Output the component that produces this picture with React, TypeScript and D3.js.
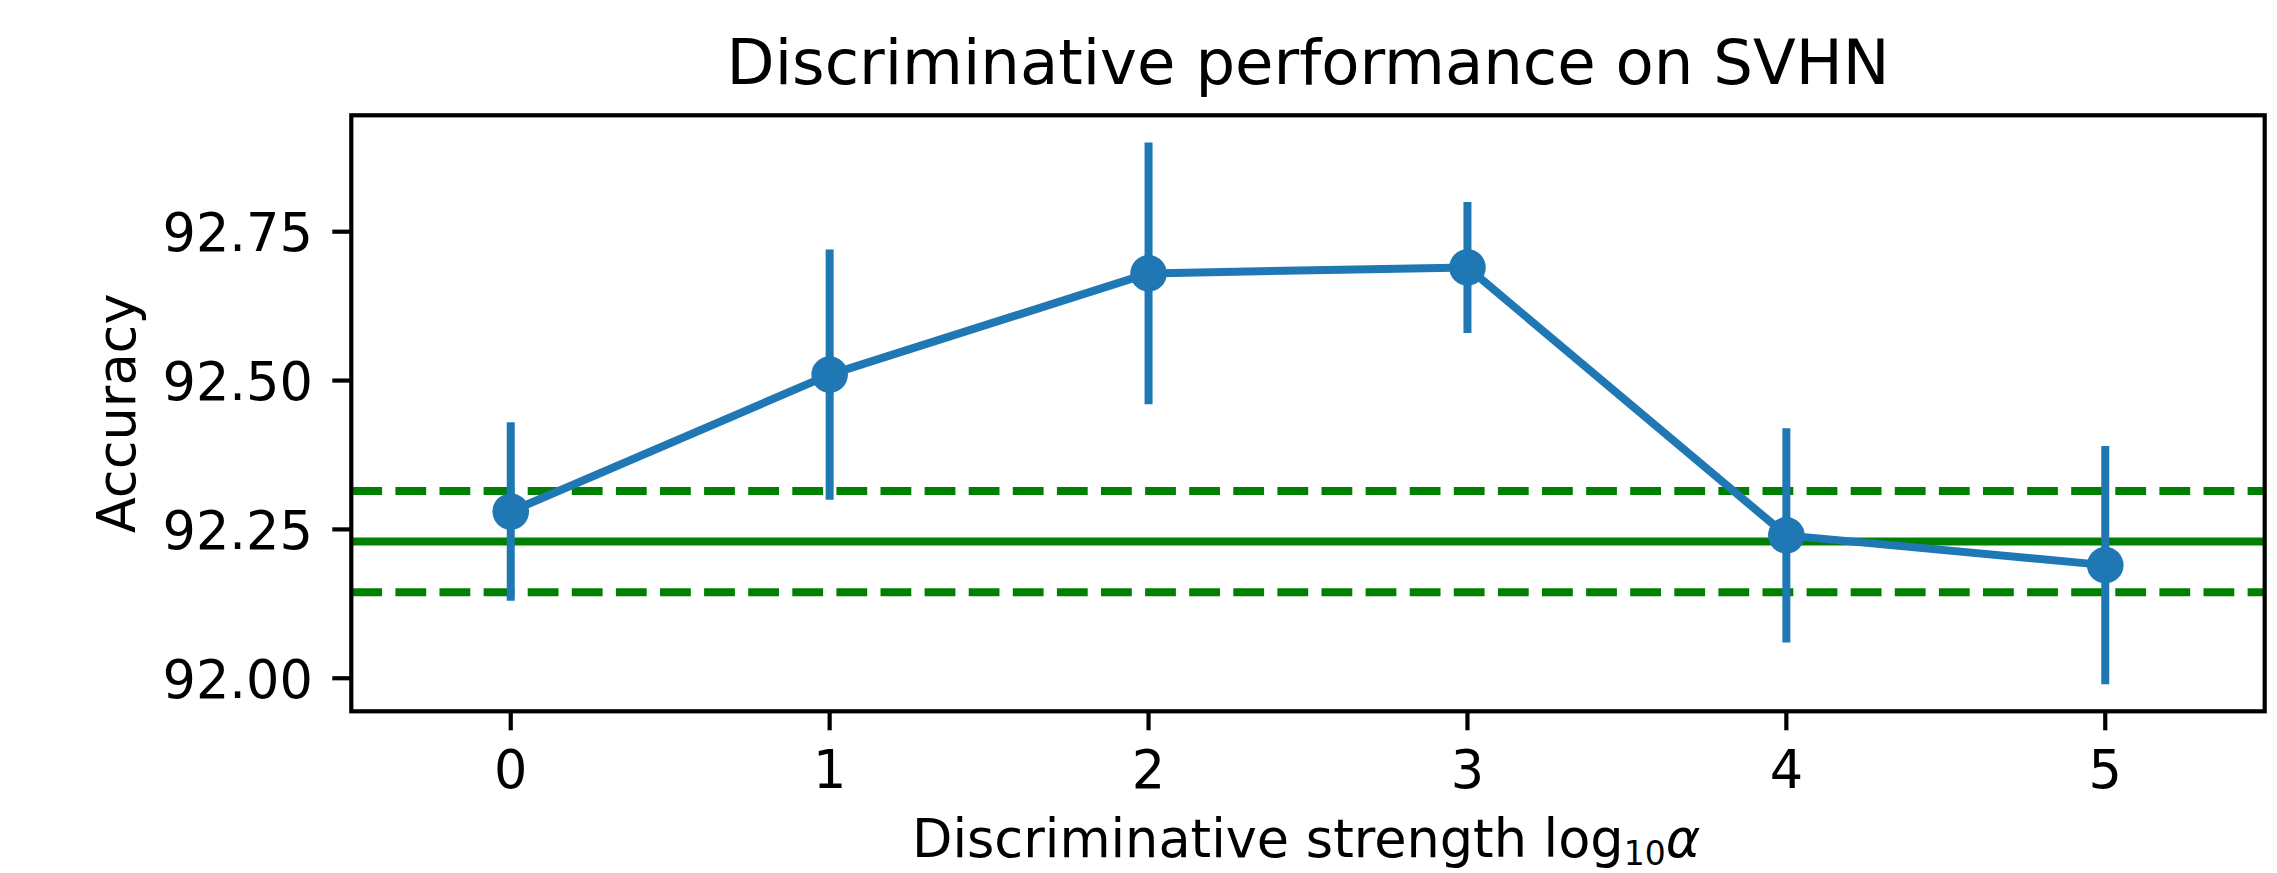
import { scaleLinear, line, extent } from "d3"

// discriminative strength log10(alpha)
const strengths = [0, 1, 2, 3, 4, 5]
const accuracy = [92.28, 92.51, 92.68, 92.69, 92.24, 92.19]
const accuracyErr = [0.15, 0.21, 0.22, 0.11, 0.18, 0.2]
// baseline (green) mean and std
const baselineMean = 92.2296
const baselineStd = 0.085
const yTicks = [92.0, 92.25, 92.5, 92.75]
const xTicks = [0, 1, 2, 3, 4, 5]

const WIDTH = 2277
const HEIGHT = 873
const MARGIN = { left: 351.3, top: 115.3, right: 2277 - 2264.7, bottom: 873 - 711.3 }
const BLUE = "#1f77b4"
const GREEN = "#008000"
const FONT = "'DejaVu Sans', sans-serif"
const FS = 52.5

export default function App() {
  const boundsWidth = WIDTH - MARGIN.left - MARGIN.right
  const boundsHeight = HEIGHT - MARGIN.top - MARGIN.bottom

  const xScale = scaleLinear().domain([-0.5, 5.5]).range([0, boundsWidth])

  const lo = extent(accuracy.map((v, i) => v - accuracyErr[i])) as [number, number]
  const hi = extent(accuracy.map((v, i) => v + accuracyErr[i])) as [number, number]
  const span = hi[1] - lo[0]
  const yScale = scaleLinear()
    .domain([lo[0] - span * 0.05, hi[1] + span * 0.05])
    .range([boundsHeight, 0])

  const points = strengths.map((s, i) => [xScale(s), yScale(accuracy[i])] as [number, number])
  const path = line()(points) || ""

  const hLines = [
    { v: baselineMean, dash: undefined },
    { v: baselineMean + baselineStd, dash: "30.8 13.3" },
    { v: baselineMean - baselineStd, dash: "30.8 13.3" },
  ]

  return (
    <svg
      width={WIDTH}
      height={HEIGHT}
      style={{ position: "absolute", left: 0, top: 0, background: "#fff" }}
      fontFamily={FONT}
    >
      <rect x={0} y={0} width={WIDTH} height={HEIGHT} fill="#fff" />
      <text x={MARGIN.left + boundsWidth / 2} y={84} fontSize={62.5} textAnchor="middle" fill="#000">
        Discriminative performance on SVHN
      </text>
      <g transform={`translate(${MARGIN.left},${MARGIN.top})`}>
        {hLines.map((h, i) => (
          <line
            key={i}
            x1={0}
            x2={boundsWidth}
            y1={yScale(h.v)}
            y2={yScale(h.v)}
            stroke={GREEN}
            strokeWidth={8}
            strokeDasharray={h.dash}
          />
        ))}
        {strengths.map((s, i) => (
          <line
            key={"e" + i}
            x1={xScale(s)}
            x2={xScale(s)}
            y1={yScale(accuracy[i] - accuracyErr[i])}
            y2={yScale(accuracy[i] + accuracyErr[i])}
            stroke={BLUE}
            strokeWidth={8}
          />
        ))}
        <path d={path} fill="none" stroke={BLUE} strokeWidth={8} strokeLinejoin="round" />
        {points.map((p, i) => (
          <circle key={"m" + i} cx={p[0]} cy={p[1]} r={18.3} fill={BLUE} />
        ))}

        <rect x={0} y={0} width={boundsWidth} height={boundsHeight} fill="none" stroke="#000" strokeWidth={4.2} />

        {yTicks.map((t, i) => (
          <g key={"y" + i}>
            <line x1={-19} x2={0} y1={yScale(t)} y2={yScale(t)} stroke="#000" strokeWidth={4.2} />
            <text x={-38.5} y={yScale(t) + 19.5} fontSize={FS} textAnchor="end" fill="#000">
              {t.toFixed(2)}
            </text>
          </g>
        ))}
        {xTicks.map((t, i) => (
          <g key={"x" + i}>
            <line x1={xScale(t)} x2={xScale(t)} y1={boundsHeight} y2={boundsHeight + 19} stroke="#000" strokeWidth={4.2} />
            <text x={xScale(t)} y={boundsHeight + 77} fontSize={FS} textAnchor="middle" fill="#000">
              {t}
            </text>
          </g>
        ))}

        <text
          transform={`translate(${135 - MARGIN.left},${boundsHeight / 2}) rotate(-90)`}
          fontSize={FS}
          textAnchor="middle"
          fill="#000"
        >
          Accuracy
        </text>
        <text x={912 - MARGIN.left} y={857 - MARGIN.top} fontSize={FS} textAnchor="start" fill="#000">
          Discriminative strength log
          <tspan fontSize={33} dy={8}>10</tspan>
          <tspan fontStyle="italic" dy={-8}>α</tspan>
        </text>
      </g>
    </svg>
  )
}
